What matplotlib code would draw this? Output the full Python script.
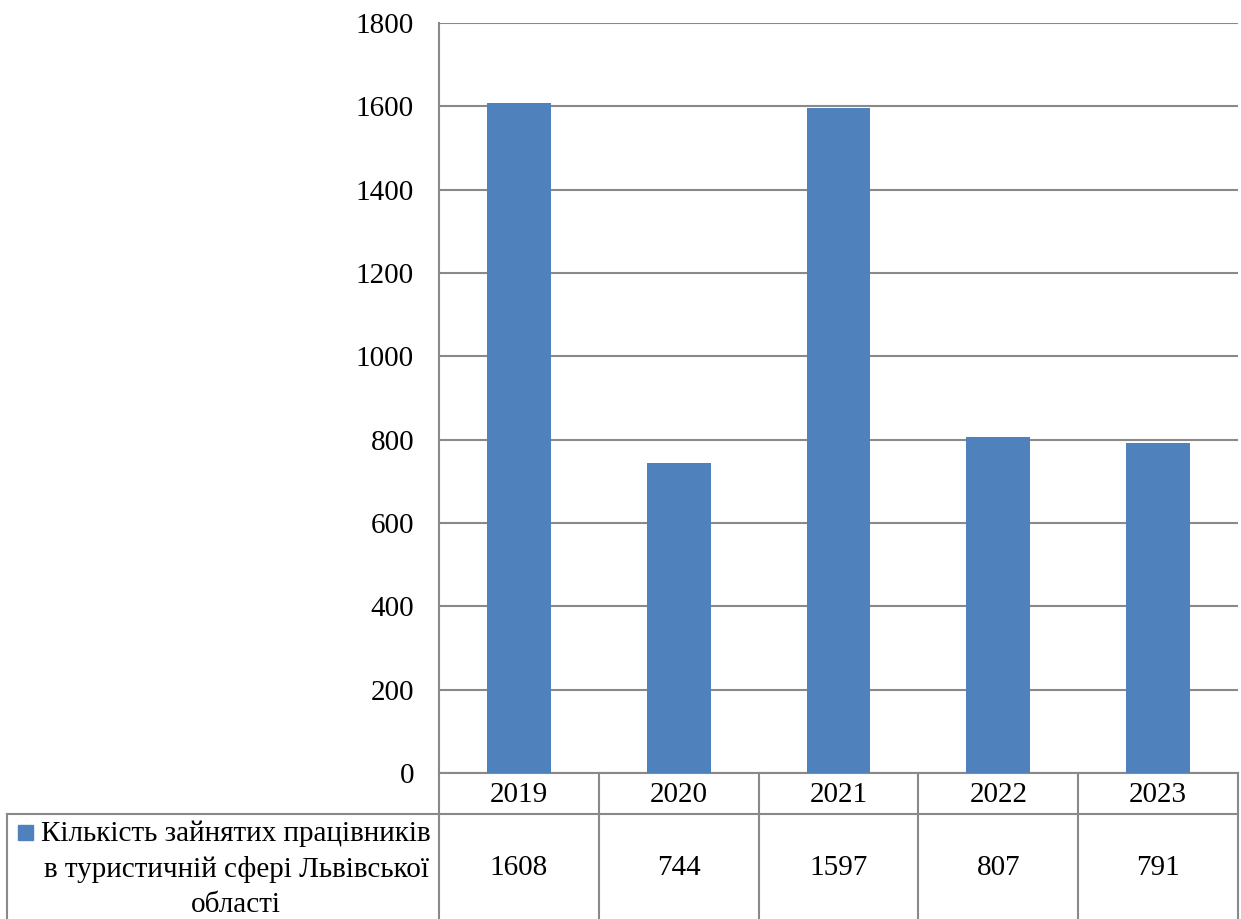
import matplotlib
matplotlib.use("Agg")
import matplotlib.pyplot as plt
from matplotlib.patches import Rectangle
from matplotlib.lines import Line2D

years = ["2019", "2020", "2021", "2022", "2023"]
values = [1608, 744, 1597, 807, 791]
series_name = "Кількість зайнятих працівників\nв туристичній сфері Львівської\nобласті"
yticks = [0, 200, 400, 600, 800, 1000, 1200, 1400, 1600, 1800]

W, H = 1241, 919
plt.rcParams['font.family'] = ['Liberation Serif', 'DejaVu Serif']
fig = plt.figure(figsize=(W / 100, H / 100), dpi=100)
FS = 21

L, R, T, B = 439, 1238, 23, 773
ax = fig.add_axes([L / W, (H - B) / H, (R - L) / W, (B - T) / H])
bar_color = "#4F81BD"
grid_color = "#898989"
x = list(range(len(years)))
ax.bar(x, values, width=0.4, color=bar_color, zorder=3)
ax.set_xlim(-0.5, len(years) - 0.5)
ax.set_ylim(0, 1800)
ax.set_yticks(yticks)
ax.set_yticklabels([str(v) for v in yticks], fontsize=FS)
ax.tick_params(axis='y', length=0, pad=18)
ax.set_xticks([])
ax.grid(axis='y', color=grid_color, linewidth=1.5, zorder=0)
for s in ["top", "right"]:
    ax.spines[s].set_visible(False)
ax.spines["left"].set_color(grid_color)
ax.spines["left"].set_linewidth(1.5)
ax.spines["bottom"].set_color(grid_color)
ax.spines["bottom"].set_linewidth(1.5)

def fx(px):
    return px / W

def fy(py):
    return 1 - py / H

lw = 1.5
row1 = 814
bottom = 919
fig.add_artist(Line2D([fx(L), fx(R)], [fy(row1), fy(row1)], color=grid_color, lw=lw))
fig.add_artist(Line2D([fx(7), fx(L)], [fy(row1), fy(row1)], color=grid_color, lw=lw))
fig.add_artist(Line2D([fx(7), fx(7)], [fy(row1), fy(bottom)], color=grid_color, lw=lw))
fig.add_artist(Line2D([fx(L), fx(L)], [fy(B), fy(bottom)], color=grid_color, lw=lw))

trans = ax.get_xaxis_transform()
for i in range(len(years)):
    xb = i + 0.5
    ax.add_line(Line2D([xb, xb], [0, -(bottom - B) / (B - T)], transform=trans,
                       color=grid_color, lw=lw, clip_on=False))
    ax.text(i, -(795 - B) / (B - T), years[i], transform=trans, ha='center',
            va='center', fontsize=FS, clip_on=False)
    ax.text(i, -(868 - B) / (B - T), str(values[i]), transform=trans, ha='center',
            va='center', fontsize=FS, clip_on=False)

fig.add_artist(Rectangle((fx(18), fy(840)), 15 / W, 15 / H, color=bar_color,
                         transform=fig.transFigure))
fig.text(fx(236), fy(869), series_name, ha='center', va='center', fontsize=FS,
         linespacing=1.45)

fig.savefig("out.png", dpi=100)
